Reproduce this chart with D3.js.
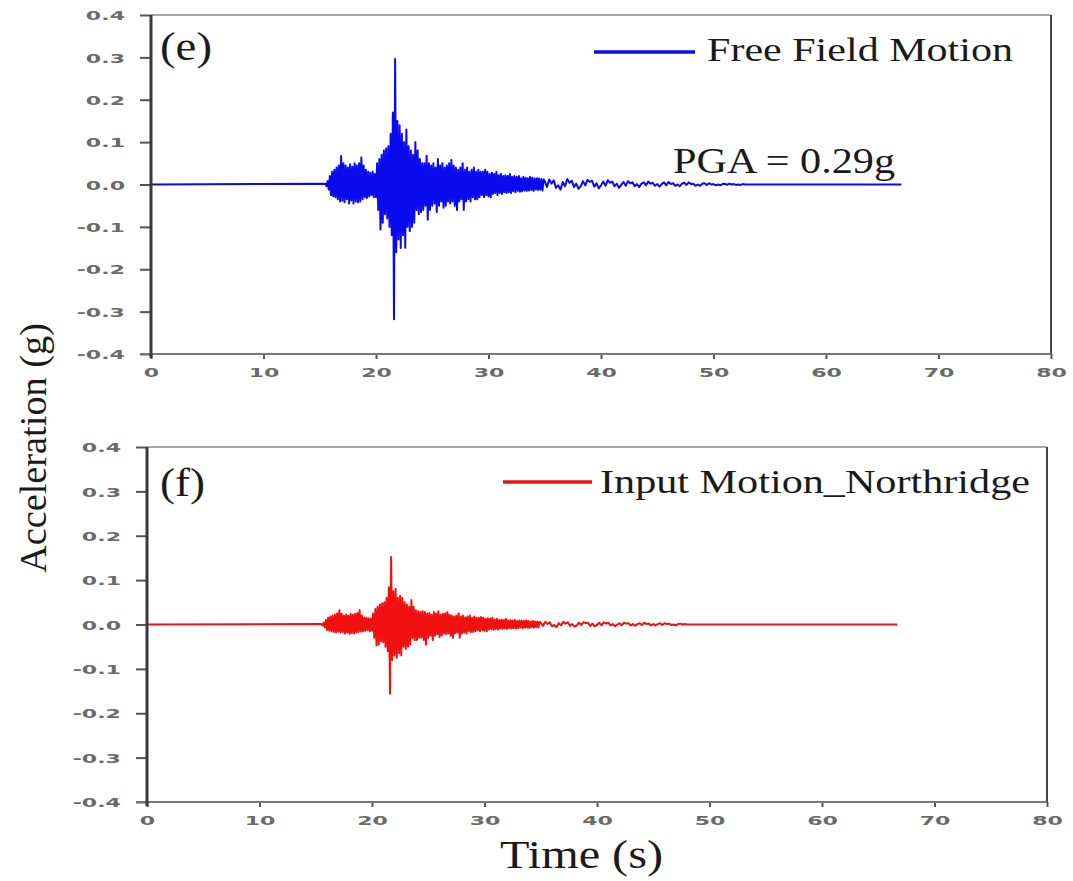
<!DOCTYPE html>
<html>
<head>
<meta charset="utf-8">
<script src="https://cdn.jsdelivr.net/npm/d3@7/dist/d3.min.js"></script>
<style>
  html, body { margin: 0; padding: 0; background: #fff; }
  svg { display: block; }
</style>
</head>
<body>
<svg id="chart" width="1073" height="881"></svg>
<script>
// ---- Record timing (s) ----
const strongStart = 15.5;   // first sample of the strong-motion phase
const strongStep = 0.1;
const codaStart = 35.0;     // first sample of the coda
const codaStep = 0.2;
const recordEnd = 66.7;

// ---- Axis ticks ----
const timeTicks = [0, 10, 20, 30, 40, 50, 60, 70, 80];
const accelTicks = [-0.4, -0.3, -0.2, -0.1, 0.0, 0.1, 0.2, 0.3, 0.4];

// ---- Free field motion, acceleration (g) ----
const freeFieldStrong = [
  0.002,-0.004,0.008,-0.012,0.02,-0.025,0.03,-0.028,0.035,-0.03,
  0.04,-0.035,0.045,-0.04,0.067,-0.038,0.05,-0.042,0.045,-0.035,
  0.04,-0.045,0.048,-0.038,0.042,-0.045,0.05,-0.04,0.045,-0.042,
  0.05,-0.04,0.064,-0.035,0.045,-0.03,0.035,-0.032,0.03,-0.028,
  0.028,-0.025,0.03,-0.03,0.025,-0.03,0.05,-0.06,0.06,-0.106,
  0.07,-0.09,0.08,-0.07,0.085,-0.08,0.09,-0.1,0.12,-0.12,
  0.17,-0.318,0.296,-0.16,0.15,-0.13,0.14,-0.15,0.12,-0.12,
  0.1,-0.149,0.13,-0.1,0.09,-0.11,0.08,-0.1,0.07,-0.09,
  0.1,-0.06,0.08,-0.07,0.06,-0.065,0.05,-0.06,0.05,-0.05,
  0.068,-0.083,0.05,-0.06,0.045,-0.05,0.05,-0.045,0.04,-0.065,
  0.06,-0.05,0.045,-0.04,0.05,-0.055,0.04,-0.05,0.045,-0.04,
  0.05,-0.045,0.058,-0.04,0.045,-0.05,0.04,-0.06,0.035,-0.04,
  0.04,-0.035,0.05,-0.06,0.035,-0.04,0.04,-0.035,0.03,-0.04,
  0.035,-0.03,0.04,-0.035,0.03,-0.035,0.035,-0.03,0.03,-0.025,
  0.03,-0.03,0.035,-0.025,0.03,-0.028,0.025,-0.03,0.028,-0.022,
  0.025,-0.02,0.03,-0.025,0.022,-0.02,0.025,-0.022,0.02,-0.018,
  0.022,-0.02,0.02,-0.018,0.025,-0.02,0.018,-0.016,0.02,-0.018,
  0.018,-0.015,0.02,-0.017,0.015,-0.016,0.018,-0.014,0.016,-0.015,
  0.015,-0.014,0.018,-0.013,0.016,-0.015,0.014,-0.012,0.015,-0.013,
  0.014,-0.012,0.013,-0.014,0.012
];
const freeFieldCoda = [
  0.008,-0.006,0.012,0.002,0.01,-0.008,-0.002,-0.012,0.006,-0.004,
  0.013,0.004,0.009,-0.006,0.002,-0.01,-0.004,0.008,-0.002,0.011,
  0.006,0.009,-0.005,0.003,-0.009,-0.002,0.007,-0.003,0.01,0.004,
  0.007,-0.004,0.002,-0.008,-0.001,0.006,-0.003,0.008,0.003,0.005,
  -0.004,0.001,-0.006,0.002,0.005,-0.002,0.007,0.002,0.004,-0.003,
  0.001,-0.005,0.001,0.005,-0.002,0.006,0.001,0.003,-0.003,0,
  -0.004,0.002,0.004,-0.001,0.005,0.001,0.002,-0.003,0,-0.003,
  0.002,0.003,-0.001,0.003,0,0.001,-0.002,0,-0.002,0.001,
  0.002,-0.001,0.002,0,0.001,-0.001,0,-0.001,0.001,0,
  0,0
];

// ---- Input motion (Northridge), acceleration (g) ----
const inputStrong = [
  0.001,-0.002,0.004,-0.006,0.01,-0.012,0.015,-0.014,0.018,-0.015,
  0.02,-0.017,0.022,-0.018,0.025,-0.016,0.032,-0.018,0.024,-0.017,
  0.02,-0.02,0.022,-0.018,0.02,-0.021,0.024,-0.019,0.022,-0.02,
  0.024,-0.018,0.026,-0.017,0.032,-0.016,0.02,-0.015,0.016,-0.014,
  0.015,-0.013,0.014,-0.015,0.013,-0.014,0.025,-0.03,0.035,-0.047,
  0.04,-0.045,0.045,-0.038,0.048,-0.04,0.05,-0.05,0.06,-0.06,
  0.084,-0.156,0.152,-0.08,0.075,-0.07,0.08,-0.075,0.06,-0.065,
  0.065,-0.07,0.06,-0.05,0.05,-0.055,0.045,-0.05,0.04,-0.045,
  0.055,-0.03,0.04,-0.035,0.032,-0.035,0.03,-0.03,0.028,-0.03,
  0.03,-0.035,0.028,-0.045,0.025,-0.03,0.026,-0.025,0.022,-0.035,
  0.028,-0.025,0.025,-0.022,0.03,-0.028,0.022,-0.025,0.024,-0.02,
  0.025,-0.022,0.028,-0.02,0.022,-0.025,0.02,-0.03,0.018,-0.02,
  0.02,-0.018,0.025,-0.03,0.018,-0.02,0.02,-0.018,0.016,-0.02,
  0.018,-0.015,0.02,-0.017,0.015,-0.017,0.018,-0.015,0.015,-0.013,
  0.015,-0.015,0.017,-0.013,0.015,-0.014,0.013,-0.015,0.014,-0.011,
  0.013,-0.01,0.015,-0.012,0.011,-0.01,0.013,-0.011,0.01,-0.009,
  0.011,-0.01,0.01,-0.009,0.013,-0.01,0.009,-0.008,0.01,-0.009,
  0.009,-0.008,0.01,-0.009,0.008,-0.008,0.009,-0.007,0.008,-0.008,
  0.008,-0.007,0.009,-0.007,0.008,-0.008,0.007,-0.006,0.008,-0.007,
  0.007,-0.006,0.007,-0.007,0.006
];
const inputCoda = [
  0.004,-0.003,0.006,0.001,0.005,-0.004,-0.001,-0.006,0.003,-0.002,
  0.006,0.002,0.005,-0.003,0.001,-0.005,-0.002,0.004,-0.001,0.005,
  0.003,0.004,-0.003,0.002,-0.004,-0.001,0.004,-0.002,0.005,0.002,
  0.004,-0.002,0.001,-0.004,0,0.003,-0.002,0.004,0.002,0.003,
  -0.002,0.001,-0.003,0.001,0.003,-0.001,0.004,0.001,0.002,-0.002,
  0.001,-0.002,0.001,0.003,-0.001,0.003,0.001,0.002,-0.001,0,
  -0.002,0.001,0.002,0,0.001,0,0
];

const pgaLabel = "PGA = 0.29g";

// Assemble a time history: quiet lead-in, strong phase, coda, quiet tail.
function timeHistory(strong, coda) {
  const pts = [[0, 0]];
  strong.forEach((v, i) => pts.push([strongStart + i * strongStep, v]));
  coda.forEach((v, i) => pts.push([codaStart + i * codaStep, v]));
  pts.push([recordEnd, 0]);
  return pts;
}

const svg = d3.select("#chart");
const SERIF = "'Liberation Serif', 'Times New Roman', Times, serif";

// Text helper: fixed font size, width set explicitly so glyphs stretch.
function label(parent, str, opts) {
  const t = parent.append("text")
    .attr("x", opts.x).attr("y", opts.y)
    .style("font-family", opts.family || SERIF)
    .attr("font-size", opts.size)
    .attr("fill", opts.fill || "#1a1a1a")
    .attr("text-anchor", opts.anchor || "start")
    .text(str);
  if (opts.width) t.attr("textLength", opts.width).attr("lengthAdjust", "spacingAndGlyphs");
  if (opts.transform) t.attr("transform", opts.transform);
  return t;
}

const TICK_SX = 1.7;   // horizontal stretch of the tick-label face

function styleTickText(sel) {
  sel.style("font-family", "'DejaVu Sans', Verdana, sans-serif")
    .attr("font-weight", "bold")
    .attr("font-size", 13)
    .attr("fill", "#6a6a6a")
    .attr("transform", `scale(${TICK_SX},1)`);
}

function drawPanel(cfg) {
  const x = d3.scaleLinear().domain([0, 80]).range([cfg.left, cfg.right]);
  const y = d3.scaleLinear().domain([-0.4, 0.4]).range([cfg.bottom, cfg.top]);
  const g = svg.append("g");

  // y axis ticks + labels
  const ya = g.append("g").attr("transform", `translate(${cfg.left},0)`)
    .call(d3.axisLeft(y).tickValues(accelTicks).tickSize(11).tickSizeOuter(0)
      .tickFormat(d => d3.format(".1f")(d).replace("−", "-")));
  ya.select(".domain").remove();
  ya.selectAll(".tick line").attr("stroke", "#555").attr("stroke-width", 2);
  ya.selectAll(".tick text")
    .call(styleTickText)
    .attr("x", -26 / TICK_SX)
    .attr("dy", "0.36em");

  // x axis ticks + labels
  const xa = g.append("g").attr("transform", `translate(0,${cfg.bottom})`)
    .call(d3.axisBottom(x).tickValues(timeTicks).tickSize(5).tickSizeOuter(0));
  xa.select(".domain").remove();
  xa.selectAll(".tick line").attr("stroke", "#555").attr("stroke-width", 2);
  xa.selectAll(".tick text")
    .call(styleTickText)
    .attr("x", 0)
    .attr("y", 18)
    .attr("dy", "0.36em");

  // frame
  g.append("line").attr("x1", cfg.left).attr("x2", cfg.right)
    .attr("y1", cfg.top).attr("y2", cfg.top)
    .attr("stroke", "#8a8a8a").attr("stroke-width", 1.6);
  g.append("line").attr("x1", cfg.right).attr("x2", cfg.right)
    .attr("y1", cfg.top).attr("y2", cfg.bottom)
    .attr("stroke", "#444").attr("stroke-width", 2);
  g.append("line").attr("x1", cfg.left - 11).attr("x2", cfg.right)
    .attr("y1", cfg.bottom).attr("y2", cfg.bottom)
    .attr("stroke", "#777").attr("stroke-width", 2.2);

  // acceleration trace
  const line = d3.line().x(d => x(d[0])).y(d => y(d[1]));
  g.append("path")
    .datum(cfg.data)
    .attr("d", line)
    .attr("fill", "none")
    .attr("stroke", cfg.color)
    .attr("stroke-width", 2)
    .attr("stroke-linejoin", "round");

  g.append("line").attr("x1", cfg.left).attr("x2", cfg.left)
    .attr("y1", cfg.top).attr("y2", cfg.bottom + 4)
    .attr("stroke", "#3a3a3a").attr("stroke-width", 3);

  // legend
  g.append("line")
    .attr("x1", cfg.legend.x1).attr("x2", cfg.legend.x2)
    .attr("y1", cfg.legend.y).attr("y2", cfg.legend.y)
    .attr("stroke", cfg.color).attr("stroke-width", 3.5);
  label(g, cfg.name, { x: cfg.legend.tx, y: cfg.legend.ty, size: 34, width: cfg.legend.tw });

  // panel tag
  label(g, cfg.tag, { x: 160, y: cfg.tagY, size: 40, width: cfg.tagW });

  return { x, y, g };
}

const freeFieldPanel = drawPanel({
  left: 151, right: 1051, top: 15, bottom: 354,
  data: timeHistory(freeFieldStrong, freeFieldCoda),
  color: "#0a0af0",
  name: "Free Field Motion",
  legend: { x1: 594, x2: 695, y: 52, tx: 707, ty: 61, tw: 306 },
  tag: "(e)", tagY: 60, tagW: 52
});
label(freeFieldPanel.g, pgaLabel, { x: 673, y: 173, size: 35, width: 222 });

drawPanel({
  left: 147, right: 1047, top: 447, bottom: 802,
  data: timeHistory(inputStrong, inputCoda),
  color: "#f01010",
  name: "Input Motion_Northridge",
  legend: { x1: 503, x2: 592, y: 482, tx: 600, ty: 493, tw: 430 },
  tag: "(f)", tagY: 496, tagW: 45
});

// shared axis titles
label(svg, "Time (s)", { x: 500, y: 868, size: 40, width: 163 });
label(svg, "Acceleration (g)", {
  x: 0, y: 0, size: 38, width: 250, anchor: "middle",
  transform: "translate(46,448) rotate(-90)"
});
</script>
</body>
</html>
